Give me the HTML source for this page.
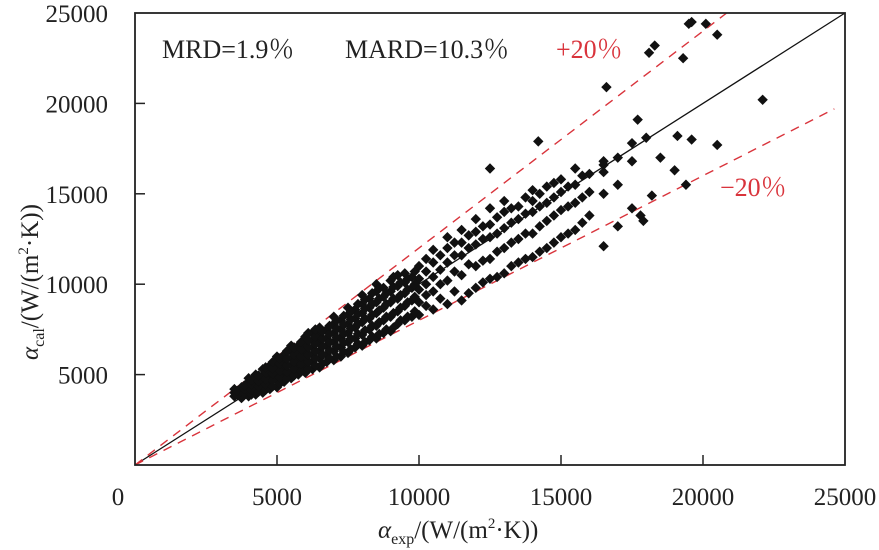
<!DOCTYPE html>
<html><head><meta charset="utf-8"><style>
body{margin:0;background:#fff}
text{font-family:"Liberation Serif","Noto Serif CJK SC",serif}
</style></head><body>
<svg id="chart" width="879" height="550" viewBox="0 0 879 550" xmlns="http://www.w3.org/2000/svg" style="position:absolute;left:0;top:0">
<g id="marks"></g>
<g id="axes"></g>
<text x="162" y="58" font-size="26" fill="#222" style='font-family:"Liberation Serif","Noto Serif CJK SC",serif'>MRD=1.9％</text>
<text x="345" y="58" font-size="26" fill="#222" style='font-family:"Liberation Serif","Noto Serif CJK SC",serif'>MARD=10.3％</text>
<text x="556" y="58" font-size="26" fill="#d9343c" style='font-family:"Liberation Serif","Noto Serif CJK SC",serif'>+20％</text>
<text x="720" y="196" font-size="26" fill="#d9343c" style='font-family:"Liberation Serif","Noto Serif CJK SC",serif'>−20％</text>
<text x="378" y="538" font-size="25" fill="#222" style='font-family:"Liberation Serif",serif'><tspan font-style="italic">α</tspan><tspan font-size="16" dy="6">exp</tspan><tspan dy="-6">/(W/(m</tspan><tspan font-size="15" dy="-10">2</tspan><tspan dy="10">·K))</tspan></text>
<text transform="translate(38,360) rotate(-90)" font-size="25" fill="#222" style='font-family:"Liberation Serif",serif'><tspan font-style="italic">α</tspan><tspan font-size="16" dy="6">cal</tspan><tspan dy="-6">/(W/(m</tspan><tspan font-size="15" dy="-10">2</tspan><tspan dy="10">·K))</tspan></text>
</svg>
<script>
const xTicks=[5000,10000,15000,20000];
const yTicks=[5000,10000,15000,20000];
const tickLabels=["0","5000","10000","15000","20000","25000"];
const lineSlopes=[1,1.2,0.8];
// experimental values (thousands) grouped by x with calculated values
const groupX=[3.5,3.75,4.0,4.25,4.5,4.75,5.0,5.25,5.5,5.75,6.0,6.25,6.5,6.75,7.0,7.25,7.5,7.75,8.0,8.25,8.5,8.75,9.0,9.25,9.5,9.75,10.0,10.5,11.0,11.5,12.0,12.5,13.0,13.5,14.0,14.5,15.0,15.5,16.0,16.5,17.0,17.5];
const groupY=[[3.8,4.0,4.2],[3.7,3.9,4.1,4.3],[3.8,4.0,4.3,4.6,4.8],[3.9,4.2,4.5,4.8,5.0],[4.0,4.3,4.6,4.9,5.3],[4.2,4.5,4.9,5.2,5.5],[4.3,4.7,5.0,5.4,5.8,6.0],[4.6,5.0,5.3,5.7,6.1],[4.8,5.1,5.5,5.9,6.3,6.6],[5.0,5.4,5.8,6.2,6.6],[5.1,5.5,5.9,6.3,6.7,7.1],[5.3,5.7,6.1,6.5,6.9,7.3],[5.4,5.9,6.3,6.8,7.2,7.6],[5.7,6.1,6.6,7.0,7.5],[5.8,6.3,6.8,7.3,7.8,8.2],[6.0,6.5,7.0,7.5,8.0],[6.2,6.8,7.3,7.8,8.3,8.7],[6.5,7.0,7.6,8.1,8.6],[6.6,7.2,7.9,8.4,8.9,9.4],[6.9,7.5,8.1,8.7,9.2],[7.0,7.7,8.4,9.0,9.6,10.0],[7.3,8.0,8.7,9.3,9.8],[7.4,8.2,9.0,9.6,10.2],[7.8,8.5,9.2,9.9,10.5],[8.0,8.8,9.5,10.1,10.6],[8.2,9.1,9.8,10.4],[8.3,9.0,9.7,10.3,11.0],[8.6,9.6,10.4,11.2,11.9],[8.9,10.2,11.2,12.0,12.6],[9.1,10.5,11.6,12.3,13.0],[9.8,11.0,12.2,12.9,13.6],[10.3,11.4,12.6,13.3,14.2],[10.6,12.0,13.1,14.0,14.6],[11.2,12.5,13.6,14.3],[11.5,12.8,14.0,14.6,15.2],[12.0,13.5,14.5,15.4],[12.6,14.1,15.1,15.8],[13.0,14.5,15.5,16.4],[13.8,15.1,16.1],[12.1,15.0,16.2,16.6],[13.2,15.5,17.0],[14.2,16.8,17.8]];
const groupX2=[3.6,3.85,4.1,4.35,4.6,4.85,5.1,5.35,5.6,5.85,6.1,6.35,6.6,6.85,7.1,7.35,7.6,7.85,8.1,8.35,8.6,8.85,9.1,9.35,9.6,9.85,10.25,10.75,11.25,11.75,12.25,12.75,13.25,13.75,14.25,14.75,15.25,15.75];
const groupY2=[[3.9,4.1],[4.0,4.2,4.4],[3.9,4.15,4.45,4.7],[4.05,4.35,4.65,4.95],[4.15,4.45,4.75,5.1,5.4],[4.35,4.7,5.05,5.35,5.7],[4.5,4.85,5.2,5.6,5.9],[4.8,5.15,5.5,5.9,6.3],[4.95,5.3,5.7,6.1,6.5],[5.2,5.6,6.0,6.4,6.8],[5.3,5.7,6.1,6.5,6.9,7.3],[5.5,5.9,6.3,6.7,7.1,7.5],[5.6,6.1,6.55,7.0,7.4],[5.9,6.35,6.8,7.25,7.7],[6.0,6.55,7.05,7.55,8.0],[6.25,6.75,7.25,7.75,8.25],[6.4,7.0,7.55,8.05,8.5],[6.7,7.25,7.8,8.35,8.9],[6.8,7.45,8.1,8.65,9.15],[7.1,7.7,8.3,8.9,9.5],[7.25,7.9,8.55,9.2,9.8],[7.5,8.2,8.9,9.5],[7.6,8.4,9.2,9.85,10.4],[8.0,8.7,9.4,10.1],[8.2,9.0,9.7,10.3],[8.5,9.3,10.0,10.7],[8.8,9.4,10.0,10.7,11.4],[9.2,10.0,10.8,11.6],[9.6,10.7,11.6,12.3],[9.5,11.1,12.0,12.7],[10.1,11.3,12.5,13.2],[10.4,11.8,12.8,13.7],[11.0,12.3,13.4,14.2],[11.4,12.8,13.9,14.8],[11.8,13.2,14.3,15.0],[12.3,13.8,14.8,15.6],[12.8,14.3,15.4],[13.4,14.8,16.0]];
const outX=[12.5,14.2,16.6,17.7,18.1,18.3,19.5,19.6,20.1,20.5,22.1,19.1,19.6,20.5,17.8,17.9,18.5,19.0,19.4,18.2,16.5,18.0,19.3];
const outY=[16.4,17.9,20.9,19.1,22.8,23.2,24.4,24.5,24.4,23.8,20.2,18.2,18.0,17.7,13.8,13.5,17.0,16.3,15.5,14.9,16.8,18.1,22.5];

const L=135,R=845,T=13,B=465,MAX=25000;
const sx=v=>L+v/MAX*(R-L), sy=v=>B-v/MAX*(B-T);
const NS="http://www.w3.org/2000/svg";
function mk(tag,attrs,parent,txt){const e=document.createElementNS(NS,tag);for(const k in attrs)e.setAttribute(k,attrs[k]);if(txt!==undefined)e.textContent=txt;parent.appendChild(e);return e;}
const axes=document.getElementById('axes'), marks=document.getElementById('marks');

lineSlopes.forEach((s,i)=>{
  const xe=Math.min(MAX,MAX/s)*(s<1?0.985:1);
  const l=mk('line',{x1:sx(0),y1:sy(0),x2:sx(xe),y2:sy(xe*s),stroke:i==0?'#111':'#d9343c','stroke-width':i==0?1.3:1.4,'stroke-dasharray':i==0?'none':'9,7'},marks);
  
  
});
function pt(x,y){
  const cx=sx(x*1000), cy=sy(y*1000), r=5.2;
  const p=mk('polygon',{points:`${cx},${cy-r} ${cx+r},${cy} ${cx},${cy+r} ${cx-r},${cy}`,fill:'#111'},marks);
  
  
}
groupX.forEach((x,i)=>groupY[i].forEach(y=>pt(x,y)));
groupX2.forEach((x,i)=>groupY2[i].forEach(y=>pt(x,y)));
outX.forEach((x,i)=>pt(x,outY[i]));

const fr=mk('rect',{x:L,y:T,width:R-L,height:B-T,fill:'none',stroke:'#222','stroke-width':1.8},axes);


xTicks.forEach(v=>{const t=mk('line',{x1:sx(v),x2:sx(v),y1:B,y2:B-10,stroke:'#222','stroke-width':1.5},axes);

});
yTicks.forEach(v=>{const t=mk('line',{x1:L,x2:L+10,y1:sy(v),y2:sy(v),stroke:'#222','stroke-width':1.5},axes);

});
tickLabels.forEach((s,i)=>{
  const v=i*5000;
  const xl=mk('text',{x:i==0?118:sx(v),y:505,'text-anchor':'middle','font-size':25,fill:'#222',style:'font-family:"Liberation Serif",serif'},axes,s);
  
  
  if(i>0){const yl=mk('text',{x:108,y:sy(v)+9,'text-anchor':'end','font-size':25,fill:'#222',style:'font-family:"Liberation Serif",serif'},axes,s);
  
  }
});
</script>
</body></html>
